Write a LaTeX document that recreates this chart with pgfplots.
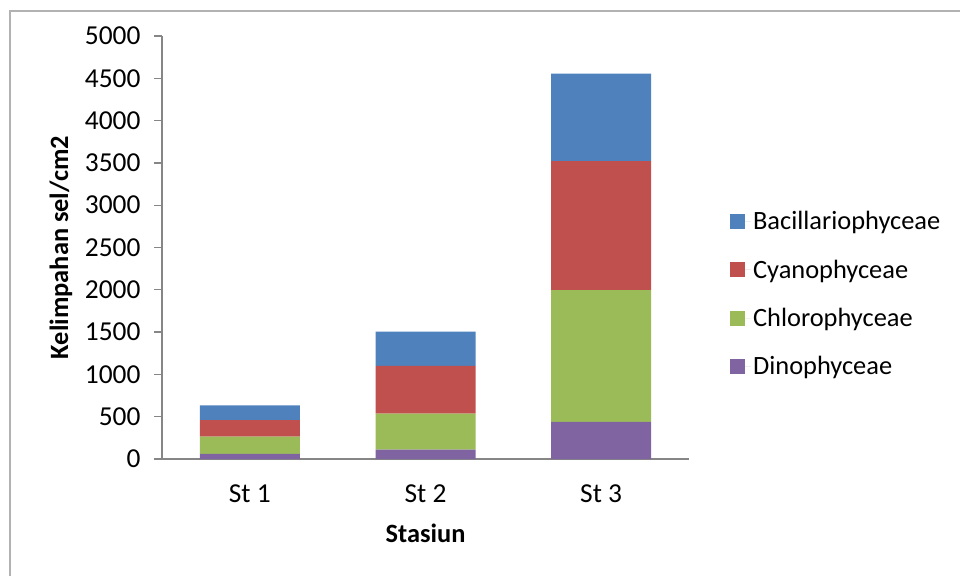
\documentclass[border=0pt]{standalone}
\usepackage{fontspec}
\setmainfont{Carlito}
\usepackage{pgfplots}
\pgfplotsset{compat=1.18}
\definecolor{bacBlue}{HTML}{4F81BD}
\definecolor{cyaRed}{HTML}{C0504D}
\definecolor{chlGreen}{HTML}{9BBB59}
\definecolor{dinPurple}{HTML}{8064A2}
\definecolor{axGray}{HTML}{868686}

\begin{document}
\begin{tikzpicture}
    \begin{axis}[
        at={(0bp,0bp)},
        anchor=south west,
        scale only axis,
        width=527bp,
        height=423bp,
        ybar stacked,
        bar width=100bp,
        xmin=-0.5, xmax=2.5,
        ymin=0, ymax=5000,
        xtick={0,1,2},
        xticklabels={St 1, St 2, St 3},
        ytick={0,500,...,5000},
        axis x line=bottom,
        axis y line=left,
        axis line style={-, axGray, line width=1.3bp},
        xtick style={draw=none},
        ytick style={axGray, line width=1.3bp},
        tick align=outside,
        major tick length=8bp,
        /pgf/number format/assume math mode=true,
        /pgf/number format/1000 sep={},
        ticklabel style={font=\fontsize{27.5}{32}\selectfont},
        yticklabel style={xshift=-10bp},
        xticklabel style={yshift=-14bp},
        ylabel={\textbf{Kelimpahan sel/cm2}},
        xlabel={\textbf{Stasiun}},
        label style={font=\fontsize{26.5}{31}\selectfont},
        ylabel style={at={(axis description cs:-0.1917,0.5)}, anchor=center},
        xlabel style={at={(axis description cs:0.5,-0.175)}, anchor=center},
        reverse legend,
        legend style={
            at={(1.072,0.39)},
            anchor=west,
            draw=none,
            fill=none,
            font=\fontsize{26.5}{31}\selectfont,
            row sep=24.5bp,
            legend cell align=left
        },
        legend image code/.code={
            \fill[#1] (0bp,-7.5bp) rectangle (15bp,7.5bp);
            \path (0bp,0bp) -- (21bp,0bp);
        }
    ]
    \addplot[fill=dinPurple, draw=none] coordinates {(0,60) (1,110) (2,440)};
    \addplot[fill=chlGreen, draw=none] coordinates {(0,205) (1,425) (2,1555)};
    \addplot[fill=cyaRed, draw=none] coordinates {(0,195) (1,565) (2,1525)};
    \addplot[fill=bacBlue, draw=none] coordinates {(0,175) (1,405) (2,1035)};
    \legend{Dinophyceae, Chlorophyceae, Cyanophyceae, Bacillariophyceae}
    \end{axis}
    % chart frame
    \draw[black!30, line width=1.2bp] (-152bp,-125bp) -- (-152bp,448bp) -- (810bp,448bp);
    \pgfresetboundingbox
    \path (-162bp,-117bp) rectangle (798bp,459bp);
\end{tikzpicture}
\end{document}
